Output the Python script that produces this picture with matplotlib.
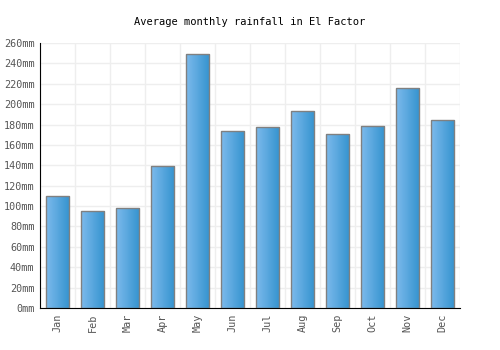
import matplotlib
matplotlib.use('Agg')
import matplotlib.pyplot as plt
import numpy as np
from matplotlib.colors import LinearSegmentedColormap

months = ['Jan', 'Feb', 'Mar', 'Apr', 'May', 'Jun', 'Jul', 'Aug', 'Sep', 'Oct', 'Nov', 'Dec']
rainfall = [110, 95, 98, 139, 249, 174, 178, 193, 171, 179, 216, 184]
yticks = list(range(0, 261, 20))

fig = plt.figure(figsize=(5, 3.5), dpi=100)
ax = fig.add_axes([0.08, 0.12, 0.84, 0.757])

x = np.arange(len(months))
bars = ax.bar(x, rainfall, width=0.66, color='none', edgecolor='#808080', linewidth=1.0, zorder=3)

# horizontal gradient in each bar
cmap = LinearSegmentedColormap.from_list('rain', ['#7cbaec', '#3593cf'])
grad = np.linspace(0, 1, 64).reshape(1, -1)
for b in bars:
    x0, w, h = b.get_x(), b.get_width(), b.get_height()
    im = ax.imshow(grad, cmap=cmap, aspect='auto', extent=[x0, x0 + w, 0, h], zorder=2)
    im.set_clip_path(b)

ax.set_xlim(-0.5, len(months) - 0.5)
ax.set_ylim(0, 260)
ax.set_yticks(yticks)
ax.set_yticklabels([f'{v}mm' for v in yticks])
ax.set_xticks(x)
ax.set_xticklabels(months, rotation=90)
ax.set_xticks(np.arange(-0.5, len(months), 1), minor=True)

ax.grid(True, axis='y', color='#eeeeee', linewidth=1, zorder=0)
ax.grid(True, axis='x', which='minor', color='#eeeeee', linewidth=1, zorder=0)
ax.set_axisbelow(True)

for s in ['top', 'right']:
    ax.spines[s].set_visible(False)
ax.spines['left'].set_color('black')
ax.spines['bottom'].set_color('black')
ax.tick_params(axis='both', which='both', length=0, labelsize=7.3, colors='#555555', pad=4)
for lbl in ax.get_xticklabels() + ax.get_yticklabels():
    lbl.set_family('DejaVu Sans Mono')

fig.suptitle('Average monthly rainfall in El Factor', y=0.952, fontsize=7.5,
             family='DejaVu Sans Mono', color='black')

fig.savefig('out.png', dpi=100)
